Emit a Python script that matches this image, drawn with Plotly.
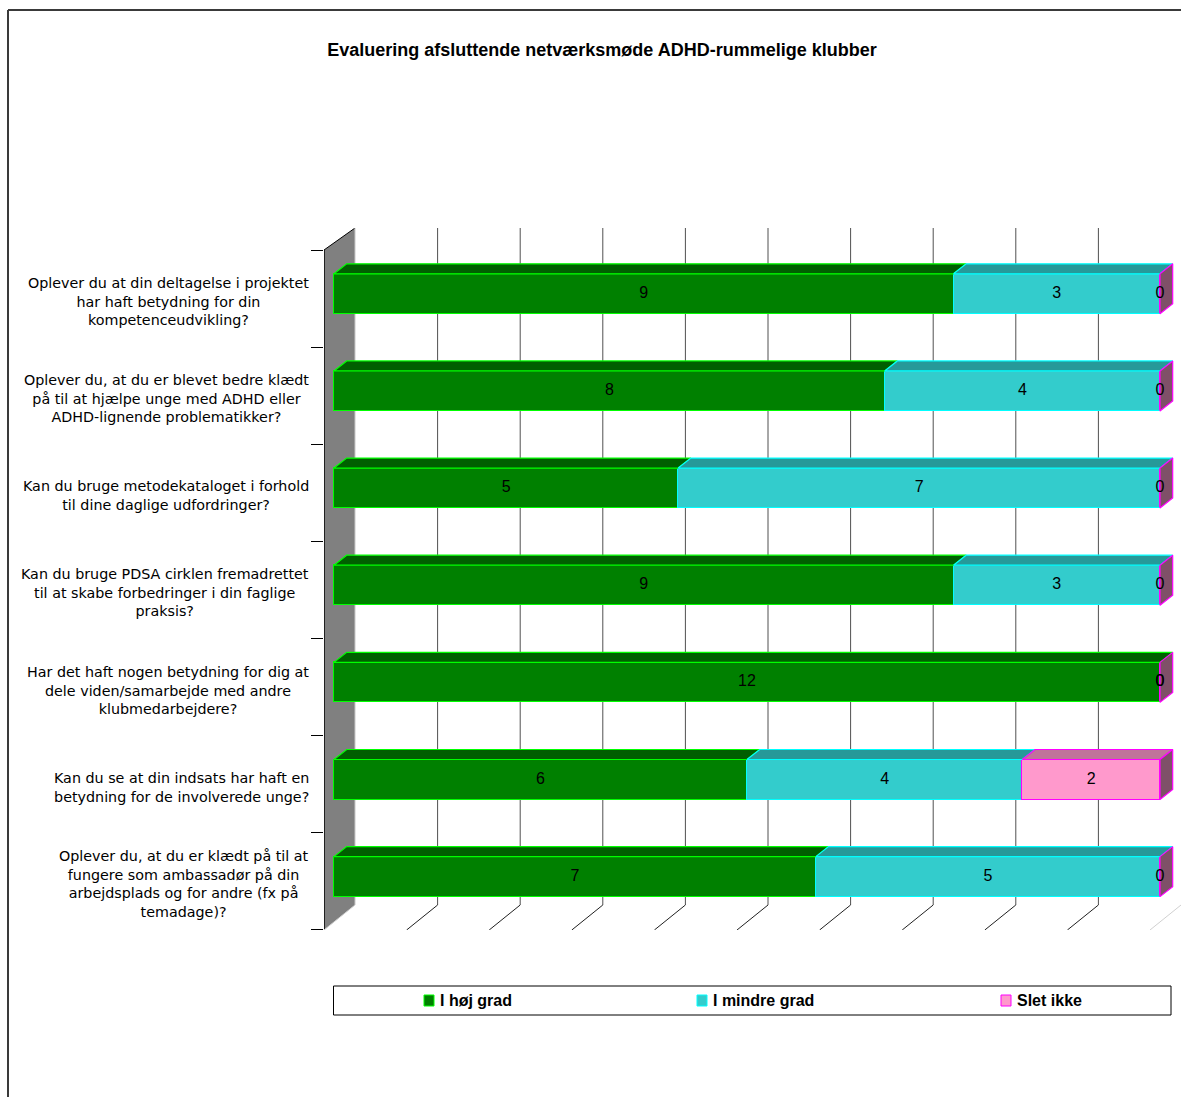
import plotly.graph_objects as go

# ---------------- data ----------------
questions = [
    "Oplever du at din deltagelse i projektet<br>har haft betydning for din<br>kompetenceudvikling?",
    "Oplever du, at du er blevet bedre klædt<br>på til at hjælpe unge med ADHD eller<br>ADHD-lignende problematikker?",
    "Kan du bruge metodekataloget i forhold<br>til dine daglige udfordringer?",
    "Kan du bruge PDSA cirklen fremadrettet<br>til at skabe forbedringer i din faglige<br>praksis?",
    "Har det haft nogen betydning for dig at<br>dele viden/samarbejde med andre<br>klubmedarbejdere?",
    "Kan du se at din indsats har haft en<br>betydning for de involverede unge?",
    "Oplever du, at du er klædt på til at<br>fungere som ambassadør på din<br>arbejdsplads og for andre (fx på<br>temadage)?",
]
series_names = ["I høj grad", "I mindre grad", "Slet ikke"]
hoej_grad = [9, 8, 5, 9, 12, 6, 7]
mindre_grad = [3, 4, 7, 3, 0, 4, 5]
slet_ikke = [0, 0, 0, 0, 0, 2, 0]
title_text = "Evaluering afsluttende netværksmøde ADHD-rummelige klubber"

# ---------------- styles ----------------
front_colors = ["#008000", "#33cccc", "#ff99cc"]
top_colors = ["#005f00", "#269999", "#c0739a"]
side_colors = ["#005a00", "#1f7f7f", "#7f5068"]
edge_colors = ["#00ff00", "#00ffff", "#ff00ff"]

W, H = 1181, 1097
PL, PR, PT, PB = 324, 1181, 228, 930          # plot area in pixels
BAR0_PX, PX_PER_PCT = 334, 8.26                # 0 % of bar plane, px per percent
ROW0_PX, PX_PER_ROW = 293.8, 97.14             # centre of first bar, px per row

def xd(px):  # pixel -> x data (percent)
    return (px - BAR0_PX) / PX_PER_PCT

def yd(py):  # pixel -> y data (rows)
    return (py - ROW0_PX) / PX_PER_ROW

def paper_x(px):
    return (px - PL) / (PR - PL)

def paper_y(py):
    return (PB - py) / (PB - PT)

FRONT_DX, BACK_DX = xd(324), xd(355)
FRONT_TOP, BACK_TOP = yd(250), yd(228)
FRONT_BOT, BACK_BOT = yd(930), yd(905)
BAR_W = 40 / PX_PER_ROW
DEP_X = 12.7 / PX_PER_PCT
DEP_Y = 10 / PX_PER_ROW

series = [hoej_grad, mindre_grad, slet_ikke]
n = len(questions)
totals = [sum(s[i] for s in series) for i in range(n)]
pct = [[s[i] / totals[i] * 100 for i in range(n)] for s in series]
rows = list(range(n))

fig = go.Figure()

# front faces (stacked horizontal bars)
for k, name in enumerate(series_names):
    fig.add_trace(go.Bar(
        y=rows, x=pct[k], orientation="h", name=name, width=BAR_W,
        marker=dict(color=front_colors[k], line=dict(color=edge_colors[k], width=1.2)),
        hoverinfo="skip", showlegend=False,
    ))

# top faces and side faces computed from the data
for k in range(3):
    xs, ys = [], []
    for i in rows:
        x0 = sum(pct[j][i] for j in range(k))
        x1 = x0 + pct[k][i]
        if x1 - x0 <= 0:
            continue
        yt = i - BAR_W / 2
        xs += [x0, x0 + DEP_X, x1 + DEP_X, x1, x0, None]
        ys += [yt, yt - DEP_Y, yt - DEP_Y, yt, yt, None]
    fig.add_trace(go.Scatter(x=xs, y=ys, mode="lines", fill="toself",
                             fillcolor=top_colors[k],
                             line=dict(color=edge_colors[k], width=1.2),
                             hoverinfo="skip", showlegend=False))

xs, ys = [], []
for i in rows:
    xe = sum(pct[j][i] for j in range(3))
    yt, yb = i - BAR_W / 2, i + BAR_W / 2
    xs += [xe, xe + DEP_X, xe + DEP_X, xe, xe, None]
    ys += [yt, yt - DEP_Y, yb - DEP_Y, yb, yt, None]
fig.add_trace(go.Scatter(x=xs, y=ys, mode="lines", fill="toself",
                         fillcolor=side_colors[2],
                         line=dict(color=edge_colors[2], width=1.2),
                         hoverinfo="skip", showlegend=False))

# value labels
lx, ly, lt = [], [], []
for k in range(3):
    for i in rows:
        x0 = sum(pct[j][i] for j in range(k))
        lx.append(x0 + pct[k][i] / 2)
        ly.append(i)
        lt.append(str(series[k][i]))
fig.add_trace(go.Scatter(x=lx, y=ly, text=lt, mode="text",
                         textfont=dict(family="Liberation Sans, Arial", size=16, color="#000000"),
                         hoverinfo="skip", showlegend=False))

shapes = []
# left wall
shapes.append(dict(type="path", xref="x", yref="y", layer="below",
                   path=f"M {FRONT_DX},{FRONT_TOP} L {BACK_DX},{BACK_TOP} L {BACK_DX},{BACK_BOT} L {FRONT_DX},{FRONT_BOT} Z",
                   fillcolor="#808080", line=dict(width=0)))
shapes.append(dict(type="line", xref="x", yref="y", layer="below",
                   x0=FRONT_DX, y0=FRONT_TOP, x1=FRONT_DX, y1=FRONT_BOT,
                   line=dict(color="#000000", width=1.5)))
shapes.append(dict(type="line", xref="x", yref="y", layer="below",
                   x0=FRONT_DX, y0=FRONT_TOP, x1=BACK_DX, y1=BACK_TOP,
                   line=dict(color="#000000", width=1)))
shapes.append(dict(type="line", xref="x", yref="y", layer="below",
                   x0=BACK_DX, y0=BACK_TOP, x1=BACK_DX, y1=BACK_BOT,
                   line=dict(color="#c8c8c8", width=1)))
shapes.append(dict(type="line", xref="x", yref="y", layer="below",
                   x0=FRONT_DX, y0=FRONT_BOT, x1=BACK_DX, y1=BACK_BOT,
                   line=dict(color="#d0d0d0", width=1)))
# back-wall gridlines and floor lines
for g in range(10, 100, 10):
    shapes.append(dict(type="line", xref="x", yref="y", layer="below",
                       x0=BACK_DX + g, y0=BACK_TOP, x1=BACK_DX + g, y1=BACK_BOT,
                       line=dict(color="#505050", width=1)))
    shapes.append(dict(type="line", xref="x", yref="y", layer="below",
                       x0=BACK_DX + g, y0=BACK_BOT, x1=FRONT_DX + g, y1=FRONT_BOT,
                       line=dict(color="#202020", width=1)))
shapes.append(dict(type="line", xref="x", yref="y", layer="below",
                   x0=BACK_DX + 100, y0=BACK_BOT, x1=FRONT_DX + 100, y1=FRONT_BOT,
                   line=dict(color="#d0d0d0", width=1)))

# outer chart border (top and left visible)
shapes.append(dict(type="line", xref="paper", yref="paper",
                   x0=paper_x(8), y0=paper_y(10), x1=paper_x(1181), y1=paper_y(10),
                   line=dict(color="#3a3a3a", width=2)))
shapes.append(dict(type="line", xref="paper", yref="paper",
                   x0=paper_x(8), y0=paper_y(10), x1=paper_x(8), y1=paper_y(1097),
                   line=dict(color="#3a3a3a", width=2)))

# legend box
shapes.append(dict(type="rect", xref="paper", yref="paper",
                   x0=paper_x(333.5), y0=paper_y(986), x1=paper_x(1171), y1=paper_y(1015),
                   line=dict(color="#000000", width=1), fillcolor="#ffffff"))
annotations = []
legend_pos = [424, 697, 1001]
for k, name in enumerate(series_names):
    mx = legend_pos[k]
    shapes.append(dict(type="rect", xref="paper", yref="paper",
                       x0=paper_x(mx), y0=paper_y(995), x1=paper_x(mx + 10), y1=paper_y(1006),
                       fillcolor=front_colors[k], line=dict(color=edge_colors[k], width=1)))
    annotations.append(dict(xref="paper", yref="paper", x=paper_x(mx + 14), y=paper_y(1000.5),
                            text=f"<b>{name}</b>", showarrow=False, xanchor="left", yanchor="middle",
                            font=dict(family="Liberation Sans, Arial", size=16, color="#000000")))

# category labels
for i, q in enumerate(questions):
    annotations.append(dict(xref="paper", yref="y", x=paper_x(311), y=yd(253 + PX_PER_ROW * (i + 0.5)),
                            text=q, showarrow=False, xanchor="right", yanchor="middle", align="center",
                            font=dict(family="DejaVu Sans", size=14.3, color="#000000")))

fig.update_layout(
    width=W, height=H,
    margin=dict(l=PL, r=W - PR, t=PT, b=H - PB, autoexpand=False),
    paper_bgcolor="#ffffff", plot_bgcolor="rgba(0,0,0,0)",
    barmode="stack", bargap=0,
    showlegend=False,
    title=dict(text=f"<b>{title_text}</b>", x=602 / W, xref="container", xanchor="center",
               y=1 - 50 / H, yref="container", yanchor="middle",
               font=dict(family="Liberation Sans, Arial", size=18, color="#000000")),
    xaxis=dict(range=[xd(PL), xd(PR)], showgrid=False, zeroline=False, showticklabels=False,
               ticks="", showline=False, fixedrange=True),
    yaxis=dict(range=[yd(PB), yd(PT)], showgrid=False, zeroline=False, showticklabels=False,
               tickmode="array", tickvals=[yd(250 + PX_PER_ROW * k) for k in range(n + 1)],
               ticks="outside", ticklen=12, tickcolor="#000000", tickwidth=1,
               showline=False, fixedrange=True),
    shapes=shapes, annotations=annotations,
)

fig.write_html("out.html")
